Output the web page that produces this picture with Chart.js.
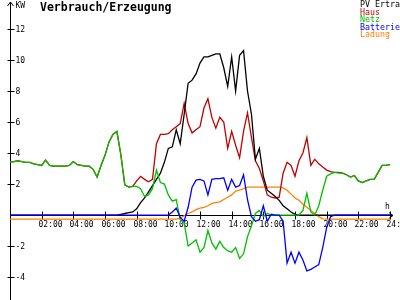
<!DOCTYPE html>
<html>
<head>
<meta charset="utf-8">
<script src="https://cdn.jsdelivr.net/npm/chart.js@4.4.1/dist/chart.umd.min.js"></script>
<style>
  html, body { margin: 0; padding: 0; background: #fff; }
  #chart { display: block; }
</style>
</head>
<body>
<canvas id="chart" width="400" height="300"></canvas>
<script>
// quarter-hour grid 00:00 .. 24:00
const times = [];
for (let i = 0; i <= 96; i++) {
	let h = Math.floor(i / 4), m = (i % 4) * 15;
	times.push((h < 10 ? '0' : '') + h + ':' + (m < 10 ? '0' : '') + m);
}

const xTickLabels = ['02:00','04:00','06:00','08:00','10:00','12:00','14:00','16:00','18:00','20:00','22:00','24:00'];
const yTicks = [-4, -2, 2, 4, 6, 8, 10, 12];
const legendNames = ['PV Ertrag', 'Haus', 'Netz', 'Batterie', 'Ladung'];
const legendColors = ['#000000', '#c00000', '#00c000', '#0000ff', '#ff8000'];

const pv = [0,0,0,0,0,0,0,0,0,0,0,0,0,0,0,0,0,0,0,0,0,0,0,0,0,0,0,0,
	0.05,0.1,0.15,0.2,0.4,0.8,1.1,1.5,1.9,2.3,2.7,3.4,4.3,4.4,5.5,4.6,6.5,8.5,8.7,9.1,9.8,10.2,10.2,10.3,10.4,10.4,9.5,8.3,10.2,8.0,10.3,10.6,8.0,6.5,3.6,4.3,2.5,1.6,1.4,1.2,0.95,0.6,0.4,0.2,0.05,
	0,0,0,0,0,0,0,0,0,0,0,0,0,0,0,0,0,0,0,0,0,0,0,0,0];

const haus = [3.42,3.45,3.5,3.45,3.4,3.4,3.3,3.25,3.2,3.55,3.2,3.15,3.15,3.15,3.15,3.2,3.45,3.25,3.2,3.15,3.15,2.95,2.45,3.2,3.85,4.7,5.2,5.4,3.9,
	1.95,1.8,1.85,2.2,2.5,2.3,2.15,2.3,4.6,5.2,5.2,5.25,5.5,5.7,5.9,7.2,5.9,5.3,5.5,5.7,6.9,7.5,6.3,5.6,6.3,6.0,4.3,5.4,4.5,3.7,5.4,6.6,5.0,3.5,3.0,2.2,1.3,1.15,1.1,1.15,2.7,3.4,3.2,2.5,3.5,4.0,5.0,3.2,3.6,3.3,3.1,2.9,2.8,2.75,2.75,
	2.7,2.6,2.45,2.55,2.2,2.1,2.2,2.3,2.3,2.75,3.2,3.2,3.25];

const netz = [3.42,3.45,3.5,3.45,3.4,3.4,3.3,3.25,3.2,3.55,3.2,3.15,3.15,3.15,3.15,3.2,3.45,3.25,3.2,3.15,3.15,2.95,2.45,3.2,3.85,4.7,5.2,5.4,3.9,
	1.95,1.8,1.85,1.85,1.7,1.2,1.3,1.7,2.9,2.1,2.0,1.3,0.9,1.0,-0.3,-0.5,-2.0,-1.8,-1.6,-2.4,-2.1,-1.0,-1.8,-2.2,-1.7,-2.1,-2.3,-2.4,-2.1,-2.8,-2.5,-1.4,-0.7,0.1,0.3,-0.1,0.1,0,0,0,0,0,0,0,0,0.3,1.4,0.2,0,0.6,1.6,2.5,2.65,2.75,2.7,
	2.7,2.6,2.45,2.55,2.2,2.1,2.2,2.3,2.3,2.75,3.2,3.2,3.25];

const batterie = [0,0,0,0,0,0,0,0,0,0,0,0,0,0,0,0,0,0,0,0,0,0,0,0,0,0,0,0,0,0,0,0,0,0,0,0,0,0,0,0,0,
	0.2,0.45,-0.15,-0.4,0.5,1.8,2.25,2.3,2.2,1.3,2.3,2.35,2.35,2.4,1.6,2.3,1.8,1.9,2.6,1.0,-0.1,-0.4,-0.3,0.6,-0.4,0.05,0,0,-0.4,-3.1,-2.4,-3.1,-2.4,-2.9,-3.6,-3.5,-3.35,-3.2,-2.1,-0.8,-0.1,
	0,0,0,0,0,0,0,0,0,0,0,0,0,0,0];

const ladung = [-0.26,-0.26,-0.26,-0.26,-0.26,-0.26,-0.26,-0.26,-0.26,-0.26,-0.26,-0.26,-0.26,-0.26,-0.26,-0.26,-0.26,-0.26,-0.26,-0.26,-0.26,-0.26,-0.26,-0.26,-0.26,-0.26,-0.26,-0.26,-0.26,-0.26,-0.26,-0.26,-0.26,-0.26,-0.26,-0.26,-0.26,-0.26,-0.26,-0.26,-0.26,-0.26,-0.26,
	-0.2,-0.05,0.1,0.2,0.35,0.45,0.5,0.6,0.75,0.8,0.85,1.0,1.15,1.3,1.55,1.6,1.7,1.8,1.8,1.8,1.8,1.8,1.8,1.8,1.8,1.8,1.75,1.6,1.35,1.1,0.95,0.7,0.5,0.3,0.1,-0.1,-0.25,
	-0.26,-0.26,-0.26,-0.26,-0.26,-0.26,-0.26,-0.26,-0.26,-0.26,-0.26,-0.26,-0.26,-0.26,-0.26,-0.26,-0.26];

const mono = '"DejaVu Sans Mono", "Liberation Mono", monospace';

// axes drawn like the original: cross at 0, arrows, labels beside the axis
const axesPlugin = {
	id: 'axes',
	beforeDatasetsDraw(chart) {
		const c = chart.ctx, xs = chart.scales.x, ys = chart.scales.y;
		const x0 = Math.round(xs.getPixelForValue(0)) + 0.5;
		const y0 = Math.round(ys.getPixelForValue(0)) + 0.5;
		c.save();
		c.strokeStyle = '#000';
		c.lineWidth = 1;
		c.beginPath();
		// y axis with arrow
		c.moveTo(x0, 300); c.lineTo(x0, 2);
		c.moveTo(x0 - 3, 6); c.lineTo(x0, 2); c.lineTo(x0 + 3, 6);
		// x axis with arrow
		c.moveTo(x0, y0); c.lineTo(393, y0);
		c.moveTo(389, y0 - 3); c.lineTo(393, y0); c.lineTo(389, y0 + 3);
		c.stroke();

		c.fillStyle = '#000';
		c.font = '8px ' + mono;
		c.textBaseline = 'middle';
		c.textAlign = 'left';
		c.beginPath();
		yTicks.forEach(v => {
			let y = Math.round(ys.getPixelForValue(v)) + 0.5;
			c.moveTo(x0 - 3, y); c.lineTo(x0 + 4, y);
			c.fillText(String(v), x0 + 5, y);
		});
		c.textBaseline = 'top';
		xTickLabels.forEach((t, i) => {
			let x = Math.round(xs.getPixelForValue((i + 1) * 8)) + 0.5;
			c.moveTo(x, y0 - 4); c.lineTo(x, y0 + 4);
			c.fillText(t, x - 4, y0 + 5);
		});
		c.stroke();
		c.fillText('KW', x0 + 5, 2);
		c.fillText('h', 385, y0 - 13);
		c.restore();
	},
	afterDraw(chart) {
		const c = chart.ctx;
		c.save();
		c.textBaseline = 'top';
		c.textAlign = 'left';
		c.fillStyle = '#000';
		c.font = 'bold 11.5px ' + mono;
		c.fillText('Verbrauch/Erzeugung', 40, 2);
		c.font = '8.3px ' + mono;
		legendNames.forEach((n, i) => {
			c.fillStyle = legendColors[i];
			c.fillText(n, 360, 1 + i * 7.5);
		});
		c.restore();
	}
};

new Chart(document.getElementById('chart'), {
	type: 'line',
	data: {
		labels: times,
		datasets: [
			{ label: legendNames[0], data: pv, borderColor: legendColors[0], order: 2 },
			{ label: legendNames[1], data: haus, borderColor: legendColors[1], order: 3 },
			{ label: legendNames[2], data: netz, borderColor: legendColors[2], order: 1 },
			{ label: legendNames[3], data: batterie, borderColor: legendColors[3], order: 0 },
			{ label: legendNames[4], data: ladung, borderColor: legendColors[4], order: 4 }
		]
	},
	options: {
		responsive: false,
		animation: false,
		layout: { padding: { left: 10, right: 10, top: 0, bottom: 0 } },
		elements: {
			point: { radius: 0 },
			line: { borderWidth: 1.3, tension: 0, fill: false }
		},
		plugins: { legend: { display: false }, tooltip: { enabled: false } },
		scales: {
			x: { display: false, offset: false },
			y: { display: false, min: -5.48, max: 13.87 }
		}
	},
	plugins: [axesPlugin]
});
</script>
</body>
</html>
